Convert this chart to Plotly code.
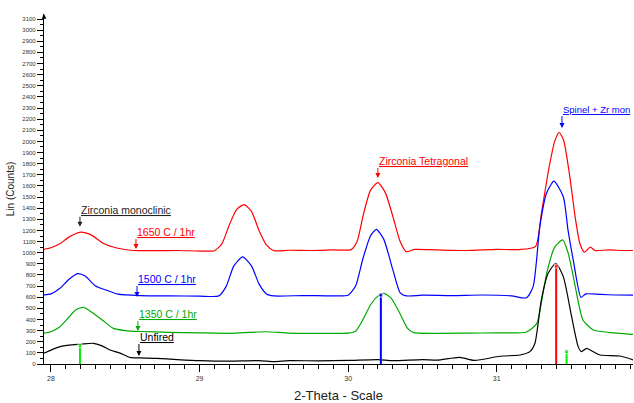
import plotly.graph_objects as go

# ---- data (2-theta, counts) ----
red_x = [27.95, 28.0, 28.06, 28.12, 28.2, 28.27, 28.35, 28.45, 28.55, 28.7, 28.85, 29.0, 29.1, 29.15, 29.2, 29.25, 29.3, 29.35, 29.4, 29.45, 29.5, 29.6, 29.75, 29.9, 30.02, 30.06, 30.1, 30.15, 30.2, 30.25, 30.3, 30.35, 30.39, 30.45, 30.6, 30.8, 31.0, 31.15, 31.26, 31.3, 31.35, 31.39, 31.42, 31.45, 31.49, 31.53, 31.56, 31.59, 31.63, 31.66, 31.75, 31.85, 31.92]
red_y = [1030, 1045, 1080, 1140, 1185, 1160, 1085, 1040, 1020, 1018, 1020, 1015, 1018, 1080, 1250, 1390, 1432, 1370, 1200, 1070, 1018, 1022, 1020, 1025, 1028, 1100, 1330, 1560, 1630, 1540, 1330, 1100, 1010, 1030, 1025, 1020, 1030, 1028, 1055, 1350, 1750, 2000, 2080, 2010, 1700, 1300, 1080, 1005, 1050, 1020, 1025, 1020, 1020]

blue_x = [27.95, 28.0, 28.06, 28.12, 28.18, 28.23, 28.3, 28.38, 28.45, 28.6, 28.8, 29.0, 29.13, 29.18, 29.23, 29.29, 29.35, 29.4, 29.45, 29.5, 29.7, 29.9, 30.0, 30.05, 30.1, 30.15, 30.19, 30.24, 30.3, 30.35, 30.39, 30.5, 30.7, 30.9, 31.1, 31.2, 31.245, 31.29, 31.335, 31.385, 31.448, 31.48, 31.515, 31.567, 31.6, 31.7, 31.8, 31.92]
blue_y = [620, 630, 680, 760, 812, 790, 700, 660, 628, 615, 612, 610, 612, 700, 880, 962, 880, 720, 630, 612, 615, 612, 618, 700, 950, 1150, 1210, 1120, 850, 640, 612, 618, 615, 620, 612, 595, 695, 1234, 1534, 1644, 1503, 1200, 934, 599, 630, 625, 620, 618]

green_x = [27.95, 28.0, 28.06, 28.12, 28.17, 28.22, 28.28, 28.35, 28.42, 28.5, 28.6, 28.8, 29.0, 29.2, 29.3, 29.45, 29.6, 29.8, 30.0, 30.05, 30.1, 30.15, 30.2, 30.24, 30.29, 30.35, 30.4, 30.44, 30.6, 30.8, 31.0, 31.2, 31.27, 31.3, 31.336, 31.39, 31.443, 31.48, 31.515, 31.55, 31.58, 31.65, 31.75, 31.92]
green_y = [276, 290, 335, 420, 490, 509, 460, 390, 320, 300, 292, 285, 280, 276, 282, 290, 278, 276, 278, 295, 400, 530, 610, 635, 590, 450, 320, 282, 276, 278, 280, 288, 365, 550, 815, 1050, 1115, 1000, 785, 550, 395, 305, 285, 266]

black_x = [27.95, 28.0, 28.06, 28.12, 28.2, 28.285, 28.34, 28.397, 28.46, 28.53, 28.6, 28.71, 28.85, 29.0, 29.2, 29.4, 29.5, 29.6, 29.8, 30.0, 30.2, 30.3, 30.5, 30.6, 30.75, 30.85, 31.0, 31.044, 31.156, 31.223, 31.257, 31.3, 31.346, 31.398, 31.448, 31.504, 31.548, 31.57, 31.605, 31.65, 31.695, 31.83, 31.92]
black_y = [96, 125, 156, 170, 178, 186, 165, 126, 100, 60, 55, 51, 40, 30, 25, 30, 22, 30, 28, 32, 40, 30, 40, 35, 60, 33, 65, 72, 81, 111, 186, 575, 815, 905, 785, 425, 156, 111, 141, 110, 81, 72, 36]

# reference pattern sticks
stick_x = [28.195, 30.22, 31.40, 31.47]
stick_y = [165, 620, 880, 111]
stick_c = ["#00ee00", "#0000ff", "#ff0000", "#00ee00"]

# labels: text, arrow tip x, arrow tip y, tail offset (px), colour, font size
labels = [
    ("Zirconia monoclinic", 28.195, 1234, -10, "#222222", 10.5),
    ("1650 C / 1hr", 28.572, 1033, -10, "#ff0000", 10.5),
    ("1500 C / 1hr", 28.579, 602, -11, "#0000ff", 10.5),
    ("1350 C / 1hr", 28.585, 296, -10, "#00aa00", 10.5),
    ("Unfired", 28.592, 72, -12, "#000000", 10.5),
    ("Zirconia Tetragonal", 30.20, 1671, -10, "#ff0000", 10.5),
    ("Spinel + Zr mon", 31.439, 2120, -12, "#0000ff", 9.5),
]

fig = go.Figure()
for xs, ys, col in [(red_x, red_y, "#ff0000"), (blue_x, blue_y, "#0000ff"),
                    (green_x, green_y, "#00aa00"), (black_x, black_y, "#000000")]:
    fig.add_trace(go.Scatter(x=xs, y=ys, mode="lines",
                             line=dict(color=col, width=1.2, shape="spline", smoothing=0.6),
                             hoverinfo="skip", showlegend=False))

for sx, sy, sc in zip(stick_x, stick_y, stick_c):
    fig.add_trace(go.Scatter(x=[sx, sx], y=[0, sy], mode="lines+markers",
                             line=dict(color=sc, width=2),
                             marker=dict(size=[0, 4], symbol="square", color=sc),
                             hoverinfo="skip", showlegend=False))

anns = []
for txt, ax_x, ax_y, off, col, fs in labels:
    anns.append(dict(x=ax_x, y=ax_y, xref="x", yref="y", ax=0, ay=off,
                     text="<u>" + txt + "</u>", showarrow=True,
                     xanchor="left", yanchor="bottom",
                     font=dict(family="Liberation Sans, Arial", size=fs, color=col),
                     arrowhead=2, arrowsize=1, arrowwidth=1, arrowcolor=col,
                     borderpad=0))
# arrow at the top of the y axis
anns.append(dict(x=0, y=1.0, xref="paper", yref="paper", ax=0, ay=6, text="",
                 showarrow=True, arrowhead=2, arrowsize=0.8, arrowwidth=1.2,
                 arrowcolor="#000000"))

fig.update_layout(
    width=634, height=403,
    margin=dict(l=44, r=1, t=14, b=39),
    paper_bgcolor="white", plot_bgcolor="white",
    font=dict(family="Liberation Sans, Arial", color="#333333"),
    annotations=anns,
    xaxis=dict(range=[27.953, 31.917], showline=True, linecolor="#000000", linewidth=1.2,
               ticks="outside", dtick=1, tick0=28, ticklen=7, tickcolor="#000000",
               tickfont=dict(size=7, color="#333333"), showgrid=False, zeroline=False,
               minor=dict(dtick=0.1, ticks="outside", ticklen=4, tickcolor="#000000"),
               title=dict(text="2-Theta - Scale", font=dict(size=13, color="#222222"), standoff=11)),
    yaxis=dict(range=[0, 3145], showline=True, linecolor="#000000", linewidth=1.2,
               ticks="outside", dtick=100, tick0=0, ticklen=6, tickcolor="#000000",
               tickfont=dict(size=6, color="#333333"), showgrid=False, zeroline=False,
               minor=dict(dtick=50, ticks="outside", ticklen=3, tickcolor="#000000"),
               title=dict(text="Lin (Counts)", font=dict(size=10, color="#222222"), standoff=5)),
)

fig.write_html("out.html")
